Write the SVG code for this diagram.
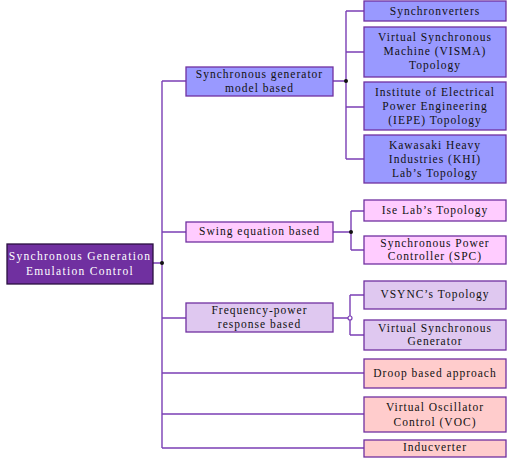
<svg xmlns="http://www.w3.org/2000/svg" width="507" height="461" viewBox="0 0 507 461">
<style>
rect{stroke:#7030A0;stroke-width:1.3}
text{font-family:"Liberation Serif","Times New Roman",serif;font-size:11.5px;letter-spacing:1px;text-anchor:middle;fill:#111}
.c path{fill:none;stroke:#7B3FB5;stroke-width:1.4}
.root rect{fill:#7030A0;stroke:#2a1040}
.root text{fill:#fff;letter-spacing:1.3px}
.a rect{fill:#9999FF}
.b rect{fill:#FFCCFF}
.d rect{fill:#DFC8F0}
.e rect{fill:#FFCCCC}
</style>
<g class="c" id="connectors">
<path d="M153 263H162M162 81V448M162 81H186M162 232H186M162 318H186M162 373H364M162 414H364M162 448H364"/>
<path d="M333 81H346M346 11V159M346 11H364M346 52H364M346 107H364M346 159H364"/>
<path d="M333 232H351M351 211V250M351 211H364M351 250H364"/>
<path d="M333 318H348M350 295V316M350 320V335M350 295H364M350 335H364"/>
<circle cx="162" cy="263" r="2" fill="#111"/>
<circle cx="346" cy="81" r="2" fill="#111"/>
<circle cx="351" cy="232" r="2" fill="#111"/>
<circle cx="350" cy="318" r="2" fill="#fff" stroke="#7B3FB5" stroke-width="1.2"/>
</g>
<g id="root" class="root"><rect x="7" y="244" width="146" height="40"/><text x="80" y="260">Synchronous Generation</text><text x="80" y="275">Emulation Control</text></g>
<g id="sg" class="a"><rect x="186" y="67" width="147" height="29"/><text x="259.5" y="78">Synchronous generator</text><text x="259.5" y="92">model based</text></g>
<g id="synchronverters" class="a"><rect x="364" y="1" width="142" height="20"/><text x="435" y="15">Synchronverters</text></g>
<g id="visma" class="a"><rect x="364" y="27" width="142" height="50"/><text x="435" y="41">Virtual Synchronous</text><text x="435" y="55">Machine (VISMA)</text><text x="435" y="69">Topology</text></g>
<g id="iepe" class="a"><rect x="364" y="82" width="142" height="48"/><text x="435" y="96">Institute of Electrical</text><text x="435" y="110">Power Engineering</text><text x="435" y="124">(IEPE) Topology</text></g>
<g id="khi" class="a"><rect x="364" y="135" width="142" height="48"/><text x="435" y="149">Kawasaki Heavy</text><text x="435" y="163">Industries (KHI)</text><text x="435" y="177">Lab’s Topology</text></g>
<g id="swing" class="b"><rect x="186" y="222" width="147" height="20"/><text x="259.5" y="235">Swing equation based</text></g>
<g id="ise" class="b"><rect x="364" y="200" width="142" height="21"/><text x="435" y="214">Ise Lab’s Topology</text></g>
<g id="spc" class="b"><rect x="364" y="236" width="142" height="28"/><text x="435" y="247">Synchronous Power</text><text x="435" y="260">Controller (SPC)</text></g>
<g id="freq" class="d"><rect x="186" y="303" width="147" height="29"/><text x="259.5" y="314">Frequency-power</text><text x="259.5" y="328">response based</text></g>
<g id="vsync" class="d"><rect x="364" y="281" width="142" height="28"/><text x="435" y="298">VSYNC’s Topology</text></g>
<g id="vsg" class="d"><rect x="364" y="320" width="142" height="30"/><text x="435" y="332">Virtual Synchronous</text><text x="435" y="345">Generator</text></g>
<g id="droop" class="e"><rect x="364" y="359" width="142" height="29"/><text x="435" y="377">Droop based approach</text></g>
<g id="voc" class="e"><rect x="364" y="397" width="142" height="35"/><text x="435" y="411">Virtual Oscillator</text><text x="435" y="426">Control (VOC)</text></g>
<g id="inducverter" class="e"><rect x="364" y="440" width="142" height="17"/><text x="435" y="451">Inducverter</text></g>
</svg>
